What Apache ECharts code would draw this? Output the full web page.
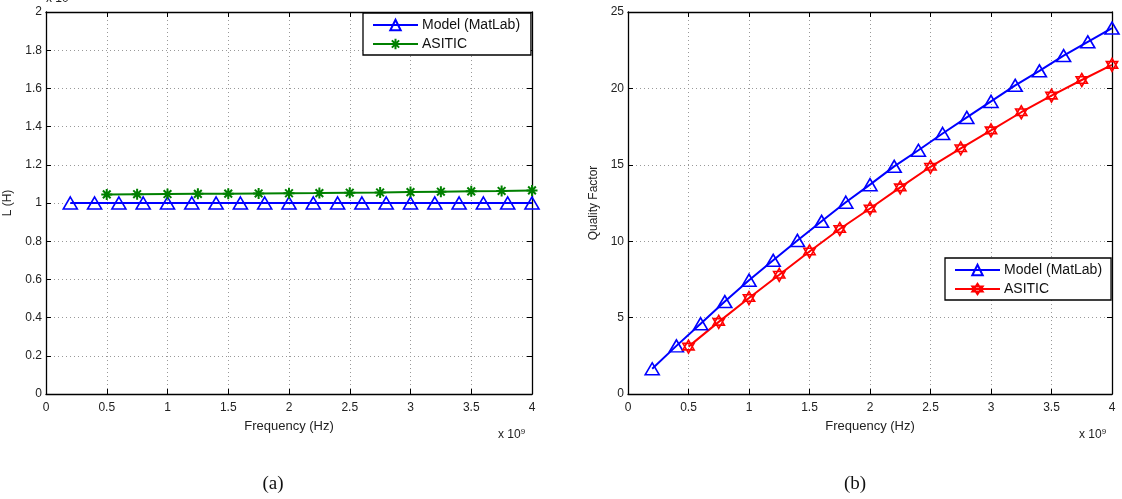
<!DOCTYPE html>
<html>
<head>
<meta charset="utf-8">
<script src="https://cdn.jsdelivr.net/npm/echarts@6/dist/echarts.min.js"></script>
<style>
  html, body { margin: 0; padding: 0; background: #fff; }
  #main { width: 1122px; height: 499px; }
</style>
</head>
<body>
<div id="main"></div>
<script>
// frequency in units of 1e9 Hz
const freqModel = [0.2, 0.4, 0.6, 0.8, 1.0, 1.2, 1.4, 1.6, 1.8, 2.0, 2.2, 2.4, 2.6, 2.8, 3.0, 3.2, 3.4, 3.6, 3.8, 4.0];
const freqAsitic = [0.5, 0.75, 1.0, 1.25, 1.5, 1.75, 2.0, 2.25, 2.5, 2.75, 3.0, 3.25, 3.5, 3.75, 4.0];
// inductance in units of 1e-8 H
const lModel = [1.0, 1.0, 1.0, 1.0, 1.0, 1.0, 1.0, 1.0, 1.0, 1.0, 1.0, 1.0, 1.0, 1.0, 1.0, 1.0, 1.0, 1.0, 1.0, 1.0];
const lAsitic = [1.045, 1.046, 1.047, 1.048, 1.049, 1.050, 1.051, 1.052, 1.054, 1.055, 1.057, 1.059, 1.061, 1.063, 1.066];
// quality factor
const qModel = [1.65, 3.15, 4.6, 6.05, 7.45, 8.75, 10.05, 11.3, 12.55, 13.7, 14.9, 15.95, 17.05, 18.1, 19.15, 20.2, 21.15, 22.15, 23.05, 23.95];
const qAsitic = [3.1, 4.72, 6.28, 7.8, 9.33, 10.8, 12.14, 13.52, 14.87, 16.08, 17.25, 18.44, 19.53, 20.55, 21.54];

// the two plots share legend texts; a trailing space keeps the left legend tied to its own series
const namesA = ["Model (MatLab) ", "ASITIC "];
const namesB = ["Model (MatLab)", "ASITIC"];
const captions = ["(a)", "(b)"];

const FONT = "Liberation Sans, Arial, sans-serif";
const asterisk = "path://M0,-10L0,10M-10,0L10,0M-7,-7L7,7M-7,7L7,-7";
const hexagram = "path://M0,-10L8.66,5L-8.66,5ZM0,10L8.66,-5L-8.66,-5Z";
const blue = "#0000ff", green = "#008000", red = "#ff0000";

const pairs = (xs, ys) => xs.map((x, i) => [x, ys[i]]);

function xAx(grid, top) {
  return {
    type: "value", gridIndex: grid, position: top ? "top" : "bottom",
    min: 0, max: 4, interval: 0.5,
    name: top ? "" : "Frequency (Hz)", nameLocation: "middle", nameGap: 26,
    nameTextStyle: { fontFamily: FONT, fontSize: 13, color: "#222" },
    axisLine: { show: true, onZero: false, lineStyle: { color: "#000", width: 1.3 } },
    axisTick: { show: true, inside: true, length: 5, lineStyle: { color: "#000" } },
    axisLabel: { show: !top, fontFamily: FONT, fontSize: 12, color: "#222", margin: 8 },
    splitLine: { show: !top, lineStyle: { color: "#999", type: [1, 3], width: 1 } }
  };
}

function yAx(grid, right, max, interval, name, gap) {
  return {
    type: "value", gridIndex: grid, position: right ? "right" : "left",
    min: 0, max: max, interval: interval,
    name: right ? "" : name, nameLocation: "middle", nameGap: gap,
    nameTextStyle: { fontFamily: FONT, fontSize: 12, color: "#222" },
    axisLine: { show: true, onZero: false, lineStyle: { color: "#000", width: 1.3 } },
    axisTick: { show: true, inside: true, length: 5, lineStyle: { color: "#000" } },
    axisLabel: { show: !right, fontFamily: FONT, fontSize: 12, color: "#222", margin: 4 },
    splitLine: { show: !right, lineStyle: { color: "#999", type: [1, 3], width: 1 } }
  };
}

function legendAt(left, top, data, padRight) {
  return {
    left: left, top: top, orient: "vertical",
    data: data,
    backgroundColor: "#fff", borderColor: "#000", borderWidth: 1.3,
    padding: [5, padRight, 4, 9], itemGap: 5, itemWidth: 45, itemHeight: 13,
    textStyle: { fontFamily: FONT, fontSize: 14, color: "#111", padding: [0, 0, 0, -1] }
  };
}

function supText(left, top, base, exp) {
  return {
    type: "text", left: left, top: top,
    style: { text: base + "{s|" + exp + "}", fontFamily: FONT, fontSize: 12, fill: "#222",
      rich: { s: { fontSize: 8, verticalAlign: "top", padding: [0, 0, 6, 0] } } }
  };
}

function caption(x, text) {
  return {
    type: "text", x: x, y: 484,
    style: { text: text, fontFamily: "Liberation Serif, serif", fontSize: 19, fill: "#111",
      align: "center", verticalAlign: "middle" }
  };
}

const chart = echarts.init(document.getElementById("main"));
chart.setOption({
  animation: false,
  backgroundColor: "#fff",
  grid: [
    { left: 46, top: 12, width: 486, height: 382 },
    { left: 628, top: 12, width: 484, height: 382 }
  ],
  xAxis: [xAx(0, false), xAx(0, true), xAx(1, false), xAx(1, true)],
  yAxis: [
    yAx(0, false, 2, 0.2, "L (H)", 32), yAx(0, true, 2, 0.2, "", 0),
    yAx(1, false, 25, 5, "Quality Factor", 28), yAx(1, true, 25, 5, "", 0)
  ],
  legend: [legendAt(363, 13, namesA, 7), legendAt(945, 258, namesB, 9)],
  series: [
    {
      name: namesA[0], type: "line", xAxisIndex: 0, yAxisIndex: 0,
      data: pairs(freqModel, lModel),
      symbol: "triangle", symbolSize: [14, 12],
      itemStyle: { color: "rgba(255,255,255,0)", borderColor: blue, borderWidth: 1.6 },
      lineStyle: { color: blue, width: 2 }
    },
    {
      name: namesA[1], type: "line", xAxisIndex: 0, yAxisIndex: 0,
      data: pairs(freqAsitic, lAsitic),
      symbol: asterisk, symbolSize: 11,
      itemStyle: { color: "rgba(255,255,255,0)", borderColor: green, borderWidth: 2 },
      lineStyle: { color: green, width: 2 }
    },
    {
      name: namesB[0], type: "line", xAxisIndex: 2, yAxisIndex: 2,
      data: pairs(freqModel, qModel),
      symbol: "triangle", symbolSize: [14, 12],
      itemStyle: { color: "rgba(255,255,255,0)", borderColor: blue, borderWidth: 1.6 },
      lineStyle: { color: blue, width: 2 }
    },
    {
      name: namesB[1], type: "line", xAxisIndex: 2, yAxisIndex: 2,
      data: pairs(freqAsitic, qAsitic),
      symbol: hexagram, symbolSize: 13, symbolKeepAspect: true,
      itemStyle: { color: "rgba(255,255,255,0)", borderColor: red, borderWidth: 1.6 },
      lineStyle: { color: red, width: 2 }
    }
  ],
  graphic: [
    supText(46, -8, "x 10", "-8"),
    supText(498, 428, "x 10", "9"),
    supText(1079, 428, "x 10", "9"),
    caption(273, captions[0]),
    caption(855, captions[1])
  ]
});
</script>
</body>
</html>
